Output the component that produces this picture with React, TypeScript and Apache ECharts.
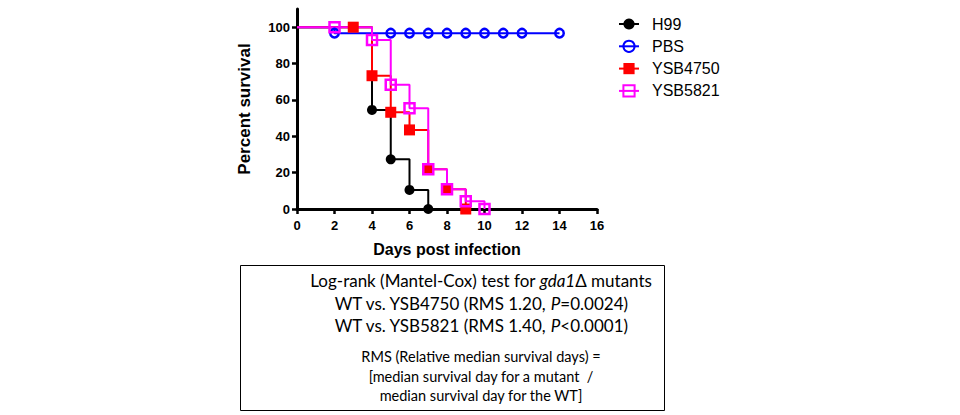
import { useEffect, useRef } from 'react'
import * as echarts from 'echarts'

const SERIES_NAMES = ['H99', 'PBS', 'YSB4750', 'YSB5821']

const H99_DAYS = [0, 4, 5, 6, 7]
const H99_SURVIVAL = [100, 54.5, 27.3, 10.5, 0]

const PBS_DAYS = [0, 2, 5, 6, 7, 8, 9, 10, 11, 12, 14]
const PBS_SURVIVAL = [100, 96.7, 96.7, 96.7, 96.7, 96.7, 96.7, 96.7, 96.7, 96.7, 96.7]

const YSB4750_DAYS = [0, 3, 4, 5, 6, 7, 8, 9]
const YSB4750_SURVIVAL = [100, 100, 73.3, 53.2, 43.5, 21.8, 10.9, 0]

const YSB5821_DAYS = [0, 2, 4, 5, 6, 7, 8, 9, 10]
const YSB5821_SURVIVAL = [100, 100, 93, 68.4, 55.4, 21.8, 10.9, 4.2, 0]

const Y_TICKS = [0, 20, 40, 60, 80, 100]

const BOX_TITLE = ['{n|Log-rank (Mantel-Cox) test for }{i|gda1}{n|Δ mutants}', '{n|WT vs. YSB4750 (RMS 1.20, }{i|P}{n|=0.0024)}', '{n|WT vs. YSB5821 (RMS 1.40, }{i|P}{n|<0.0001)}']
const BOX_NOTE = ['RMS (Relative median survival days) =', '[median survival day for a mutant  /', 'median survival day for the WT]']

const AXIS_FONT = '"Liberation Sans", Arial, sans-serif'
const BOX_FONT = 'Lato, "Open Sans", sans-serif'

// first point only anchors the step at day 0, no marker there
const toPoints = (days: number[], values: number[]) =>
  days.map((d, i) => (i === 0 ? { value: [d, values[i]], symbol: 'none' } : { value: [d, values[i]] }))

export default function App() {
  const ref = useRef<HTMLDivElement>(null)

  useEffect(() => {
    document.body.style.margin = '0'
    if (!ref.current) return
    const chart = echarts.init(ref.current, undefined, { renderer: 'svg' })

    const base = {
      type: 'line',
      step: 'end',
      clip: false,
      showAllSymbol: true,
    }

    chart.setOption({
      animation: false,
      backgroundColor: '#fff',
      grid: { left: 297, top: 9, width: 300, height: 200 },
      legend: {
        data: SERIES_NAMES,
        orient: 'vertical',
        left: 618,
        top: 16,
        padding: 0,
        itemWidth: 20,
        itemHeight: 14,
        itemGap: 6.3,
        selectedMode: false,
        textStyle: { fontFamily: AXIS_FONT, fontSize: 16, color: '#000', padding: [0, 0, 0, 8] },
      },
      xAxis: {
        type: 'value',
        min: 0,
        max: 16,
        interval: 2,
        name: 'Days post infection',
        nameLocation: 'middle',
        nameGap: 32,
        nameTextStyle: { fontFamily: AXIS_FONT, fontSize: 16, fontWeight: 'bold', color: '#000' },
        axisLine: { lineStyle: { color: '#000', width: 3 } },
        axisTick: { length: 5, lineStyle: { color: '#000', width: 2.5 } },
        axisLabel: { fontFamily: AXIS_FONT, fontSize: 13, fontWeight: 'bold', color: '#000', margin: 10 },
        splitLine: { show: false },
      },
      yAxis: {
        type: 'value',
        min: 0,
        max: 110,
        interval: 20,
        name: 'Percent survival',
        nameLocation: 'middle',
        nameGap: 44,
        nameTextStyle: { fontFamily: AXIS_FONT, fontSize: 17, fontWeight: 'bold', color: '#000' },
        axisLine: { show: true, lineStyle: { color: '#000', width: 3 } },
        axisTick: { show: true, length: 5, customValues: Y_TICKS, lineStyle: { color: '#000', width: 2.5 } },
        axisLabel: { customValues: Y_TICKS, fontFamily: AXIS_FONT, fontSize: 13, fontWeight: 'bold', color: '#000', margin: 7 },
        splitLine: { show: false },
      },
      series: [
        {
          ...base,
          name: 'H99',
          symbol: 'circle',
          symbolSize: 10,
          itemStyle: { color: '#000' },
          lineStyle: { color: '#000', width: 2 },
          data: toPoints(H99_DAYS, H99_SURVIVAL),
        },
        {
          ...base,
          name: 'PBS',
          symbol: 'circle',
          symbolSize: 8.5,
          itemStyle: { color: 'transparent', borderColor: '#0000ff', borderWidth: 2.5 },
          lineStyle: { color: '#0000ff', width: 2 },
          data: toPoints(PBS_DAYS, PBS_SURVIVAL),
        },
        {
          ...base,
          name: 'YSB4750',
          symbol: 'rect',
          symbolSize: 11,
          itemStyle: { color: '#ff0000' },
          lineStyle: { color: '#ff0000', width: 2 },
          data: toPoints(YSB4750_DAYS, YSB4750_SURVIVAL),
        },
        {
          ...base,
          name: 'YSB5821',
          symbol: 'rect',
          symbolSize: 10,
          itemStyle: { color: 'transparent', borderColor: '#ff00ff', borderWidth: 2.5 },
          lineStyle: { color: '#ff00ff', width: 2 },
          data: toPoints(YSB5821_DAYS, YSB5821_SURVIVAL),
        },
      ],
      graphic: [
        {
          type: 'rect',
          shape: { x: 240.5, y: 265.5, width: 424, height: 145 },
          style: { fill: '#fff', stroke: '#000', lineWidth: 1 },
        },
        ...BOX_TITLE.map((t, i) => ({
          type: 'text',
          x: 481,
          y: [280, 303, 325][i],
          style: {
            text: t,
            align: 'center',
            verticalAlign: 'middle',
            rich: {
              n: { fontFamily: BOX_FONT, fontSize: 17, fill: '#000' },
              i: { fontFamily: BOX_FONT, fontSize: 17, fontStyle: 'italic', fill: '#000' },
            },
          },
        })),
        ...BOX_NOTE.map((t, i) => ({
          type: 'text',
          x: 481,
          y: [356, 376, 395][i],
          style: {
            text: t,
            align: 'center',
            verticalAlign: 'middle',
            fontFamily: BOX_FONT,
            fontSize: 14.5,
            fill: '#000',
          },
        })),
      ],
    })

    return () => chart.dispose()
  }, [])

  return <div ref={ref} style={{ width: 960, height: 415 }} />
}
